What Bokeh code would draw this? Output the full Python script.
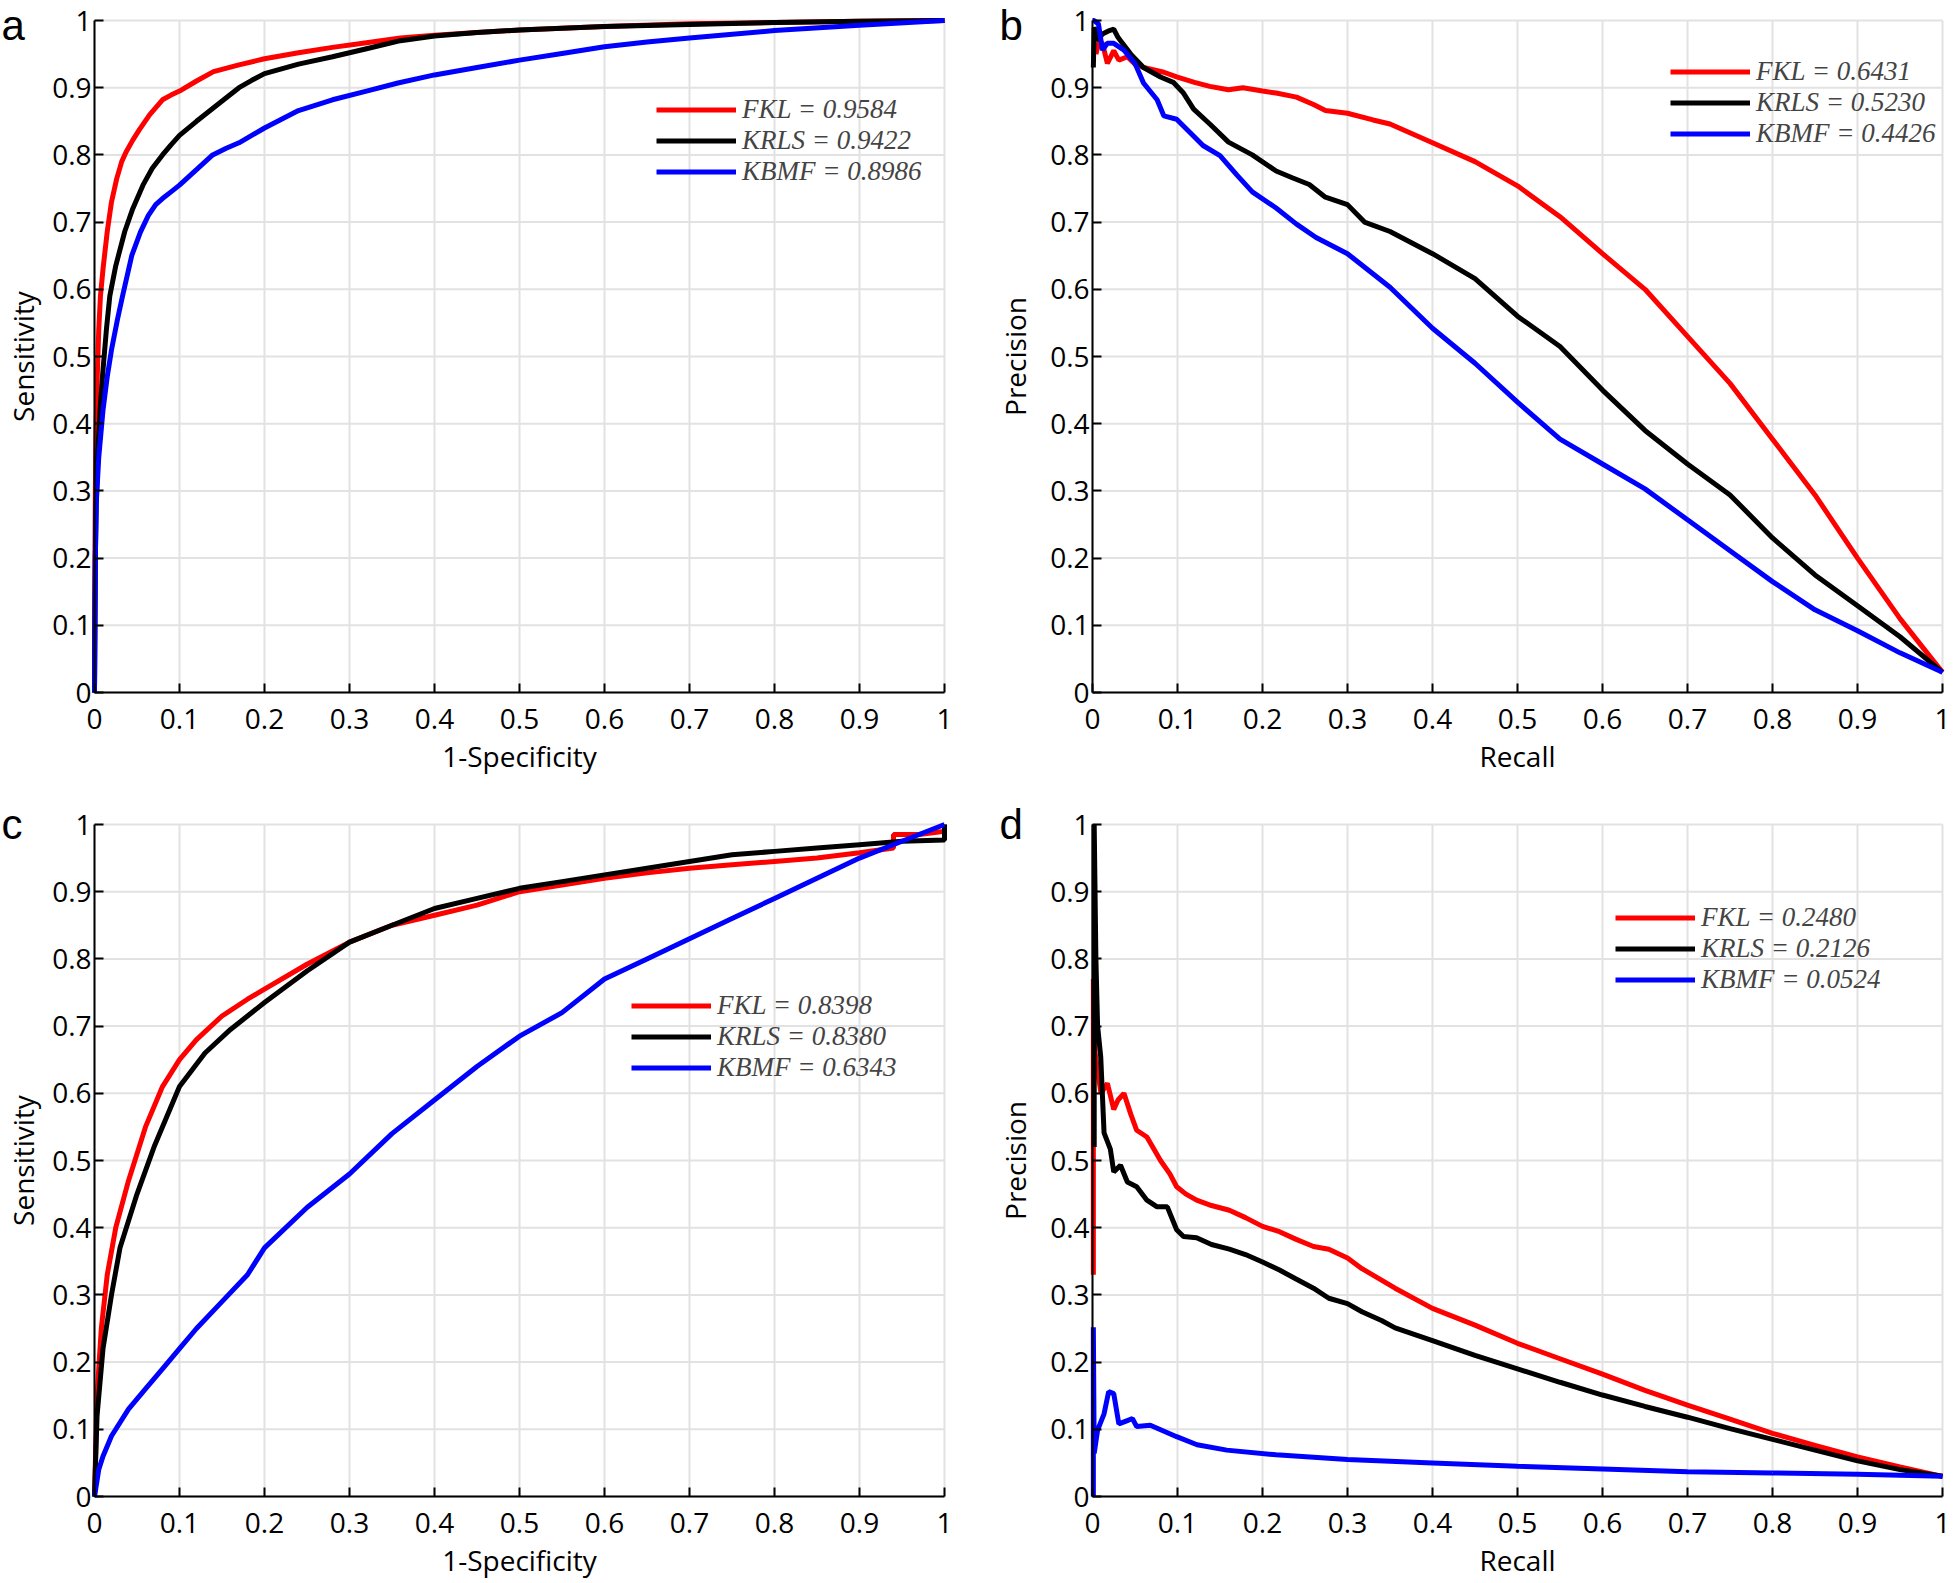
from bokeh.plotting import figure
from bokeh.models import Range1d, FixedTicker, Legend, LegendItem, Label
from bokeh.layouts import column, row
from bokeh.embed import file_html
from bokeh.resources import INLINE

# ---------------- data ----------------
ticks = [0, 0.1, 0.2, 0.3, 0.4, 0.5, 0.6, 0.7, 0.8, 0.9, 1.0]
tick_labels = ["0", "0.1", "0.2", "0.3", "0.4", "0.5", "0.6", "0.7", "0.8", "0.9", "1"]
methods = ["FKL", "KRLS", "KBMF"]
colors = ["#ff0000", "#000000", "#0000ff"]

# panel a: ROC
a_auc = ["0.9584", "0.9422", "0.8986"]
a_fkl_x = [0, 0.0005, 0.001, 0.002, 0.003, 0.005, 0.007, 0.01, 0.015, 0.02, 0.026, 0.032, 0.037, 0.045, 0.053, 0.065, 0.08, 0.09, 0.1, 0.12, 0.14, 0.17, 0.2, 0.24, 0.28, 0.32, 0.36, 0.4, 0.45, 0.5, 0.6, 0.7, 0.8, 0.9, 1.0]
a_fkl_y = [0, 0.2, 0.3, 0.4, 0.46, 0.54, 0.59, 0.63, 0.686, 0.73, 0.764, 0.79, 0.804, 0.822, 0.838, 0.86, 0.882, 0.889, 0.895, 0.91, 0.924, 0.934, 0.943, 0.952, 0.96, 0.967, 0.974, 0.978, 0.982, 0.986, 0.991, 0.995, 0.997, 0.999, 1.0]
a_krls_x = [0, 0.001, 0.002, 0.004, 0.007, 0.01, 0.014, 0.018, 0.025, 0.0356, 0.045, 0.057, 0.068, 0.08, 0.09, 0.1, 0.12, 0.139, 0.155, 0.17, 0.185, 0.2, 0.24, 0.28, 0.32, 0.36, 0.4, 0.45, 0.5, 0.6, 0.7, 0.8, 0.9, 1.0]
a_krls_y = [0, 0.2, 0.28, 0.36, 0.43, 0.48, 0.54, 0.59, 0.635, 0.686, 0.72, 0.755, 0.78, 0.8, 0.815, 0.829, 0.85, 0.869, 0.885, 0.9, 0.911, 0.921, 0.935, 0.946, 0.958, 0.97, 0.977, 0.982, 0.986, 0.991, 0.994, 0.997, 0.999, 1.0]
a_kbmf_x = [0, 0.001, 0.002, 0.005, 0.01, 0.015, 0.02, 0.027, 0.033, 0.044, 0.054, 0.0634, 0.072, 0.08, 0.09, 0.1, 0.12, 0.139, 0.155, 0.17, 0.2, 0.24, 0.28, 0.32, 0.357, 0.4, 0.45, 0.5, 0.55, 0.6, 0.65, 0.7, 0.8, 0.9, 1.0]
a_kbmf_y = [0, 0.2, 0.28, 0.35, 0.42, 0.47, 0.51, 0.555, 0.59, 0.651, 0.685, 0.71, 0.726, 0.735, 0.745, 0.755, 0.778, 0.8, 0.81, 0.818, 0.84, 0.866, 0.882, 0.895, 0.907, 0.919, 0.93, 0.941, 0.951, 0.961, 0.968, 0.974, 0.985, 0.993, 1.0]

# panel b: PR
b_aupr = ["0.6431", "0.5230", "0.4426"]
b_fkl_x = [0.004, 0.008, 0.0117, 0.0175, 0.025, 0.031, 0.041, 0.05, 0.06, 0.084, 0.099, 0.12, 0.138, 0.16, 0.177, 0.2, 0.216, 0.24, 0.26, 0.274, 0.3, 0.33, 0.35, 0.4, 0.45, 0.5, 0.55, 0.6, 0.65, 0.7, 0.75, 0.8, 0.85, 0.9, 0.95, 1.0]
b_fkl_y = [0.95, 0.97, 0.966, 0.936, 0.955, 0.941, 0.946, 0.935, 0.93, 0.923, 0.916, 0.908, 0.902, 0.897, 0.9, 0.895, 0.892, 0.886, 0.875, 0.866, 0.862, 0.852, 0.846, 0.818, 0.79, 0.754, 0.708, 0.653, 0.6, 0.53, 0.46, 0.377, 0.294, 0.2, 0.11, 0.03]
b_krls_x = [0.001, 0.002, 0.006, 0.0117, 0.02, 0.025, 0.03, 0.033, 0.045, 0.06, 0.08, 0.095, 0.107, 0.119, 0.138, 0.16, 0.188, 0.216, 0.235, 0.255, 0.274, 0.3, 0.32, 0.35, 0.4, 0.45, 0.5, 0.55, 0.6, 0.65, 0.7, 0.75, 0.8, 0.85, 0.9, 0.95, 1.0]
b_krls_y = [0.93, 0.99, 0.97, 0.98, 0.985, 0.987, 0.975, 0.97, 0.95, 0.93, 0.916, 0.908, 0.892, 0.868, 0.846, 0.819, 0.8, 0.776, 0.766, 0.756, 0.737, 0.726, 0.7, 0.686, 0.653, 0.616, 0.56, 0.515, 0.45, 0.39, 0.34, 0.294, 0.23, 0.175, 0.129, 0.083, 0.03]
b_kbmf_x = [0.0, 0.0016, 0.007, 0.0117, 0.0175, 0.025, 0.037, 0.05, 0.06, 0.076, 0.084, 0.099, 0.115, 0.13, 0.15, 0.17, 0.188, 0.216, 0.24, 0.263, 0.3, 0.35, 0.4, 0.45, 0.5, 0.55, 0.6, 0.65, 0.7, 0.75, 0.8, 0.85, 0.9, 0.95, 1.0]
b_kbmf_y = [1.0, 1.0, 0.995, 0.956, 0.966, 0.966, 0.956, 0.936, 0.907, 0.882, 0.858, 0.853, 0.833, 0.814, 0.799, 0.77, 0.745, 0.721, 0.697, 0.677, 0.653, 0.603, 0.542, 0.49, 0.432, 0.377, 0.34, 0.303, 0.257, 0.211, 0.165, 0.123, 0.092, 0.059, 0.03]

# panel c: ROC
c_auc = ["0.8398", "0.8380", "0.6343"]
c_fkl_x = [0, 0.003, 0.008, 0.015, 0.025, 0.04, 0.06, 0.08, 0.1, 0.12, 0.15, 0.18, 0.2, 0.25, 0.3, 0.35, 0.4, 0.45, 0.5, 0.55, 0.6, 0.65, 0.7, 0.75, 0.8, 0.85, 0.9, 0.94, 0.94, 0.97, 1.0, 1.0]
c_fkl_y = [0, 0.15, 0.25, 0.33, 0.40, 0.47, 0.55, 0.61, 0.65, 0.68, 0.715, 0.74, 0.755, 0.792, 0.825, 0.85, 0.865, 0.88, 0.9, 0.91, 0.92, 0.928, 0.935, 0.94, 0.945, 0.95, 0.958, 0.965, 0.985, 0.985, 0.99, 1.0]
c_krls_x = [0, 0.003, 0.01, 0.02, 0.03, 0.05, 0.07, 0.1, 0.13, 0.16, 0.2, 0.25, 0.3, 0.35, 0.4, 0.45, 0.5, 0.55, 0.6, 0.65, 0.7, 0.75, 0.8, 0.85, 0.9, 0.95, 1.0, 1.0]
c_krls_y = [0, 0.12, 0.22, 0.30, 0.37, 0.45, 0.52, 0.61, 0.66, 0.695, 0.735, 0.782, 0.825, 0.85, 0.875, 0.89, 0.905, 0.915, 0.925, 0.935, 0.945, 0.955, 0.96, 0.965, 0.97, 0.975, 0.977, 1.0]
c_kbmf_x = [0, 0.005, 0.01, 0.02, 0.04, 0.06, 0.08, 0.1, 0.12, 0.15, 0.18, 0.2, 0.25, 0.3, 0.35, 0.4, 0.45, 0.5, 0.55, 0.6, 0.65, 0.7, 0.75, 0.8, 0.85, 0.9, 0.95, 1.0]
c_kbmf_y = [0, 0.04, 0.06, 0.09, 0.13, 0.16, 0.19, 0.22, 0.25, 0.29, 0.33, 0.37, 0.43, 0.48, 0.54, 0.59, 0.64, 0.685, 0.72, 0.77, 0.80, 0.83, 0.86, 0.89, 0.92, 0.95, 0.975, 1.0]

# panel d: PR
d_aupr = ["0.2480", "0.2126", "0.0524"]
d_fkl_x = [0.001, 0.001, 0.003, 0.006, 0.01, 0.0175, 0.025, 0.03, 0.037, 0.045, 0.052, 0.064, 0.08, 0.091, 0.099, 0.11, 0.1225, 0.14, 0.161, 0.18, 0.2, 0.22, 0.239, 0.26, 0.278, 0.3, 0.317, 0.34, 0.356, 0.4, 0.45, 0.5, 0.55, 0.6, 0.65, 0.7, 0.75, 0.8, 0.85, 0.9, 0.95, 1.0]
d_fkl_y = [0.33, 0.77, 0.66, 0.634, 0.6, 0.615, 0.576, 0.59, 0.6, 0.569, 0.545, 0.535, 0.5, 0.48, 0.461, 0.45, 0.441, 0.433, 0.426, 0.415, 0.402, 0.394, 0.383, 0.372, 0.368, 0.355, 0.339, 0.322, 0.31, 0.28, 0.255, 0.228, 0.205, 0.182, 0.158, 0.136, 0.115, 0.094, 0.076, 0.059, 0.044, 0.03]
d_krls_x = [0.002, 0.002, 0.004, 0.006, 0.0097, 0.0136, 0.021, 0.025, 0.033, 0.041, 0.052, 0.064, 0.076, 0.088, 0.099, 0.107, 0.1225, 0.14, 0.161, 0.18, 0.2, 0.22, 0.239, 0.26, 0.278, 0.3, 0.317, 0.34, 0.356, 0.4, 0.45, 0.5, 0.55, 0.6, 0.65, 0.7, 0.75, 0.8, 0.85, 0.9, 0.95, 1.0]
d_krls_y = [0.52, 1.0, 0.8, 0.7, 0.654, 0.541, 0.517, 0.483, 0.493, 0.468, 0.461, 0.441, 0.431, 0.431, 0.397, 0.387, 0.385, 0.375, 0.368, 0.36, 0.349, 0.337, 0.324, 0.31, 0.295, 0.287, 0.275, 0.262, 0.251, 0.232, 0.21, 0.19, 0.17, 0.151, 0.134, 0.118, 0.101, 0.085, 0.069, 0.053, 0.04, 0.03]
d_kbmf_x = [0.001, 0.001, 0.002, 0.006, 0.0136, 0.019, 0.025, 0.031, 0.041, 0.047, 0.052, 0.068, 0.099, 0.123, 0.158, 0.216, 0.3, 0.4, 0.5, 0.6, 0.7, 0.8, 0.9, 1.0]
d_kbmf_y = [0.0, 0.252, 0.064, 0.0988, 0.123, 0.156, 0.153, 0.108, 0.113, 0.116, 0.104, 0.106, 0.089, 0.077, 0.069, 0.062, 0.055, 0.05, 0.045, 0.041, 0.037, 0.035, 0.033, 0.03]

# ---------------- styling ----------------
TICK_FONT = "Open Sans"
LEG_FONT = "Liberation Serif"
PW = 850   # plot-area width  (px)
PH = 672   # plot-area height (px)
ROW_H = 29
GRID_COLOR = "#e2e2e2"


def make_panel(letter, xlabel, ylabel, series, values, leg_x, leg_top,
               left, right, top, bottom, letter_y, ylab_standoff):
    # the frame covers the whole canvas; axes are pinned at 0 so that
    # labels and panel letters are never clipped
    w = left + PW + right
    h = top + PH + bottom
    p = figure(width=w, height=h, output_backend="svg", toolbar_location=None,
               x_range=Range1d(-left / PW, 1 + right / PW),
               y_range=Range1d(-bottom / PH, 1 + top / PH),
               min_border=0)
    p.outline_line_color = None
    p.background_fill_color = "white"
    p.border_fill_color = "white"
    p.grid.visible = False

    # grid lines at the tick positions, limited to the unit square
    n = len(ticks)
    p.segment(x0=ticks, y0=[0] * n, x1=ticks, y1=[1] * n,
              line_color=GRID_COLOR, line_width=2)
    p.segment(x0=[0] * n, y0=ticks, x1=[1] * n, y1=ticks,
              line_color=GRID_COLOR, line_width=2)

    for ax in (p.xaxis[0], p.yaxis[0]):
        ax.fixed_location = 0
        ax.bounds = (0, 1)
        ax.ticker = FixedTicker(ticks=ticks)
        ax.major_label_overrides = {t: l for t, l in zip(ticks, tick_labels)}
        ax.axis_line_color = "black"
        ax.axis_line_width = 2
        ax.major_tick_line_color = "black"
        ax.major_tick_line_width = 2
        ax.major_tick_in = 9
        ax.major_tick_out = 0
        ax.minor_tick_line_color = None
        ax.major_label_text_font = TICK_FONT
        ax.major_label_text_font_size = "28px"
        ax.major_label_text_color = "black"
        ax.axis_label_text_font = TICK_FONT
        ax.axis_label_text_font_size = "28px"
        ax.axis_label_text_font_style = "normal"
        ax.axis_label_text_color = "black"
    p.xaxis.axis_label = xlabel
    p.yaxis.axis_label = ylabel
    p.xaxis.major_label_standoff = 16
    p.xaxis.axis_label_standoff = 5
    p.yaxis.major_label_standoff = 3
    p.yaxis.axis_label_standoff = ylab_standoff

    items = []
    for (xs, ys), name, col, val in zip(series, methods, colors, values):
        r = p.line(xs, ys, line_color=col, line_width=5)
        items.append(LegendItem(label=f"{name} = {val}", renderers=[r]))
    leg = Legend(items=items,
                 location=(left + leg_x, bottom + PH - leg_top - 3 * ROW_H),
                 background_fill_alpha=0, border_line_color=None,
                 label_text_font=LEG_FONT, label_text_font_style="italic",
                 label_text_font_size="27px", label_height=ROW_H, glyph_height=ROW_H,
                 glyph_width=80, label_standoff=6, spacing=0, padding=0, margin=0)
    p.add_layout(leg, "center")

    lab = Label(x=left - 93, y=bottom + PH - letter_y,
                x_units="screen", y_units="screen", text=letter,
                text_font="Liberation Sans", text_font_size="42px",
                text_color="black", text_align="left", text_baseline="alphabetic")
    p.add_layout(lab)
    return p


pa = make_panel("a", "1-Specificity", "Sensitivity",
                [(a_fkl_x, a_fkl_y), (a_krls_x, a_krls_y), (a_kbmf_x, a_kbmf_y)],
                a_auc, 562, 80, 94, 48, 20, 82, 5, 7)
pb = make_panel("b", "Recall", "Precision",
                [(b_fkl_x, b_fkl_y), (b_krls_x, b_krls_y), (b_kbmf_x, b_kbmf_y)],
                b_aupr, 578, 42, 100, 10, 20, 82, 5, 13)
pc = make_panel("c", "1-Specificity", "Sensitivity",
                [(c_fkl_x, c_fkl_y), (c_krls_x, c_krls_y), (c_kbmf_x, c_kbmf_y)],
                c_auc, 537, 172, 94, 48, 50, 84, 0, 7)
pd = make_panel("d", "Recall", "Precision",
                [(d_fkl_x, d_fkl_y), (d_krls_x, d_krls_y), (d_kbmf_x, d_kbmf_y)],
                d_aupr, 523, 84, 100, 10, 50, 84, 0, 13)

layout = column(row(pa, pb), row(pc, pd))
open("out.html", "w").write(file_html(layout, INLINE))
